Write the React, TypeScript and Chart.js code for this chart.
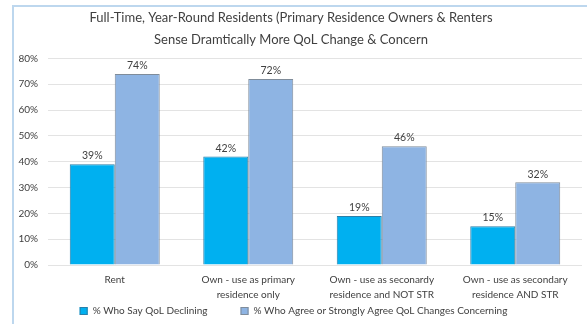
import React, { useEffect, useRef } from "react";
import { Chart, registerables } from "chart.js";

Chart.register(...registerables);

const categories: string[][] = [
  ["Rent"],
  ["Own - use as primary", "residence only"],
  ["Own - use as seconardy", "residence and NOT STR"],
  ["Own - use as secondary", "residence AND STR"],
];
const declining = [39, 42, 19, 15];
const concerning = [74, 72, 46, 32];
const seriesNames = [
  "% Who Say QoL Declining",
  "% Who Agree or Strongly Agree QoL Changes Concerning",
];
const titleLines = [
  "Full-Time, Year-Round Residents (Primary Residence Owners & Renters",
  "Sense Dramtically More QoL Change & Concern",
];

const FONT = "Lato, 'Open Sans', sans-serif";
const TEXT = "#404040";

const valueLabels = {
  id: "valueLabels",
  afterDatasetsDraw(chart: any) {
    const ctx = chart.ctx;
    ctx.save();
    ctx.font = `10.5px ${FONT}`;
    ctx.fillStyle = TEXT;
    ctx.textAlign = "center";
    ctx.textBaseline = "bottom";
    chart.data.datasets.forEach((ds: any, i: number) => {
      const meta = chart.getDatasetMeta(i);
      meta.data.forEach((bar: any, j: number) => {
        ctx.fillText(ds.data[j] + "%", bar.x, bar.y - 3);
      });
    });
    ctx.restore();
  },
};

const bottomLegend = {
  id: "bottomLegend",
  afterDraw(chart: any) {
    const ctx = chart.ctx;
    const y = 311;
    const box = 8;
    const gapBoxText = 5;
    const gapItems = 33;
    ctx.save();
    ctx.font = `10px ${FONT}`;
    ctx.textBaseline = "middle";
    const items = chart.data.datasets.map((ds: any) => ({
      text: ds.label,
      fill: ds.backgroundColor,
      stroke: ds.borderColor,
      w: ctx.measureText(ds.label).width,
    }));
    let total = 0;
    items.forEach((it: any, i: number) => {
      total += box + gapBoxText + it.w + (i > 0 ? gapItems : 0);
    });
    let x = chart.width / 2 - total / 2;
    items.forEach((it: any) => {
      ctx.fillStyle = it.fill;
      ctx.fillRect(x, y - box / 2, box, box);
      ctx.strokeStyle = it.stroke;
      ctx.lineWidth = 1;
      ctx.strokeRect(x + 0.5, y - box / 2 + 0.5, box - 1, box - 1);
      ctx.fillStyle = TEXT;
      ctx.textAlign = "left";
      ctx.fillText(it.text, x + box + gapBoxText, y);
      x += box + gapBoxText + it.w + gapItems;
    });
    ctx.restore();
  },
};

export default function App() {
  const ref = useRef<HTMLCanvasElement>(null);
  useEffect(() => {
    if (!ref.current) return;
    const chart = new Chart(ref.current, {
      type: "bar",
      data: {
        labels: categories,
        datasets: [
          {
            label: seriesNames[0],
            data: declining,
            backgroundColor: "#00B0F0",
            borderColor: "#2a7fa8",
            borderWidth: 1,
            categoryPercentage: 0.674,
            barPercentage: 1,
          },
          {
            label: seriesNames[1],
            data: concerning,
            backgroundColor: "#8EB4E3",
            borderColor: "#7f8c9a",
            borderWidth: 1,
            categoryPercentage: 0.674,
            barPercentage: 1,
          },
        ],
      },
      options: {
        animation: false,
        responsive: false,
        maintainAspectRatio: false,
        layout: { padding: { left: 0, right: 5, top: 0, bottom: 14 } },
        plugins: {
          title: {
            display: true,
            text: titleLines,
            color: TEXT,
            font: { family: FONT, size: 13, weight: "normal" as any, lineHeight: 1.65 },
            padding: { top: 7.5, bottom: 8 },
          },
          legend: { display: false },
          tooltip: { enabled: false },
        },
        scales: {
          x: {
            grid: { display: false, drawTicks: false },
            border: { display: false },
            ticks: {
              color: TEXT,
              font: { family: FONT, size: 10, lineHeight: 1.55 },
              maxRotation: 0,
              autoSkip: false,
              padding: 7,
            },
          },
          y: {
            min: 0,
            max: 80,
            grid: { color: "#e3e3e3", drawTicks: false },
            border: { display: false },
            afterFit: (scale: any) => {
              scale.width = 48;
            },
            ticks: {
              stepSize: 10,
              color: TEXT,
              font: { family: FONT, size: 10 },
              padding: 10,
              callback: (v: any) => v + "%",
            },
          },
        },
      },
      plugins: [valueLabels, bottomLegend],
    });
    return () => chart.destroy();
  }, []);
  return (
    <div style={{ position: "fixed", left: 0, top: 0, width: 587, height: 324, background: "#fff" }}>
      <div
        style={{
          position: "absolute",
          left: 12,
          top: 5,
          width: 600,
          height: 340,
          borderLeft: "2px solid #BDD7EE",
          borderTop: "2px solid #BDD7EE",
        }}
      />
      <canvas ref={ref} width={587} height={324} style={{ position: "absolute", left: 0, top: 0 }} />
    </div>
  );
}
